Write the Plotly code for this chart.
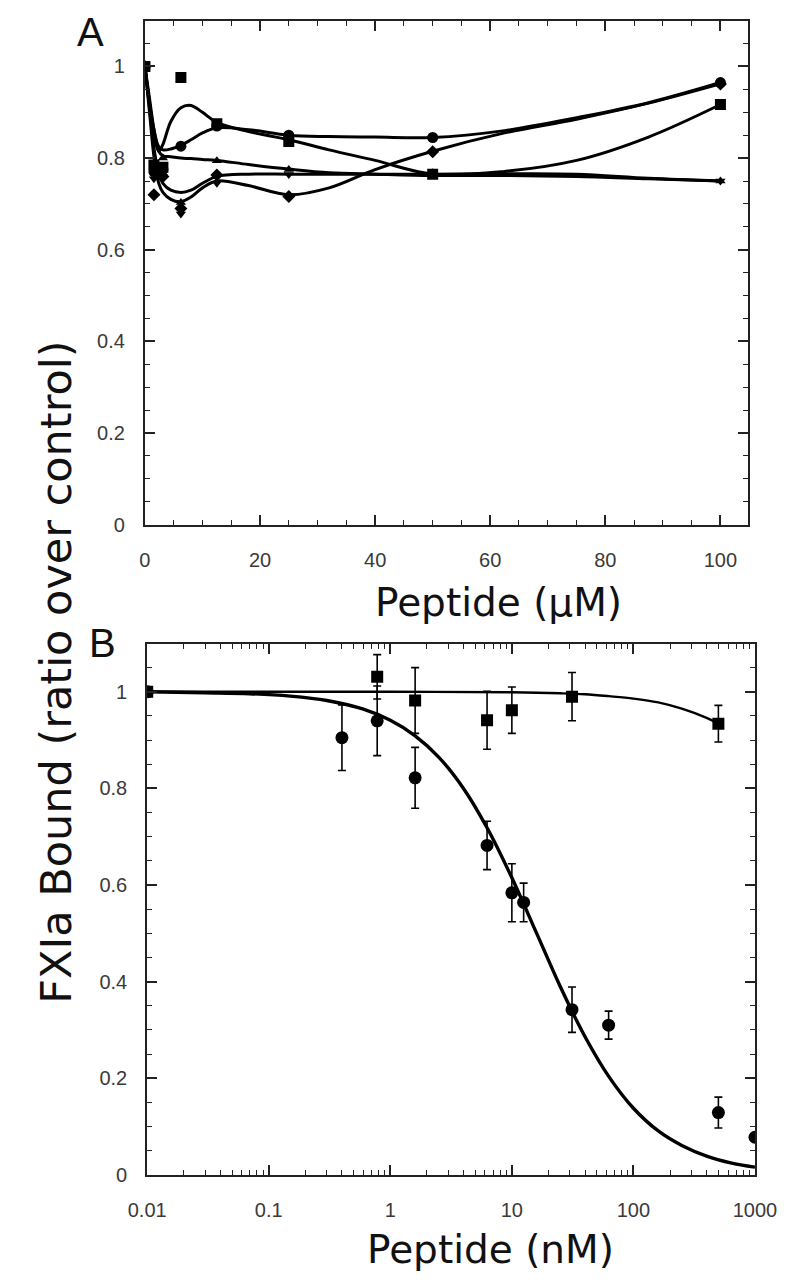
import plotly.graph_objects as go

# ---------------- Panel A data (peptide, µM) ----------------
conc_A = [0, 1.5625, 3.125, 6.25, 12.5, 25, 50, 100]
sq_A   = [1.0, 0.785, 0.78, 0.976, 0.875, 0.836, 0.765, 0.917]
ci_A   = [1.0, 0.770, 0.775, 0.826, 0.870, 0.850, 0.845, 0.965]
di_A   = [1.0, 0.720, 0.760, 0.690, 0.763, 0.716, 0.814, 0.962]
td_A   = [1.0, 0.755, 0.760, 0.678, 0.745, 0.764, 0.765, 0.750]
tu_A   = [1.0, 0.790, 0.800, 0.703, 0.794, 0.775, 0.768, 0.750]

# smoothed curves
curve_x_A  = [0, 0.8, 1.6, 2.4, 3.125, 4.5, 6.25, 8, 10, 12.5, 18, 25, 32, 40, 50, 62.5, 75, 87.5, 100]
sq_curve   = [1.0, 0.92, 0.85, 0.815, 0.83, 0.88, 0.91, 0.915, 0.90, 0.878, 0.858, 0.840, 0.818, 0.795, 0.765, 0.771, 0.795, 0.846, 0.917]
ci_curve   = [1.0, 0.92, 0.86, 0.825, 0.818, 0.82, 0.828, 0.840, 0.855, 0.866, 0.862, 0.850, 0.847, 0.846, 0.845, 0.860, 0.888, 0.921, 0.965]
di_curve   = [1.0, 0.90, 0.80, 0.745, 0.725, 0.71, 0.705, 0.715, 0.735, 0.750, 0.740, 0.720, 0.735, 0.775, 0.815, 0.855, 0.885, 0.920, 0.962]
td_curve   = [1.0, 0.91, 0.82, 0.765, 0.745, 0.73, 0.725, 0.730, 0.745, 0.760, 0.765, 0.765, 0.765, 0.765, 0.765, 0.766, 0.765, 0.756, 0.750]
tu_curve   = [1.0, 0.93, 0.86, 0.815, 0.805, 0.803, 0.800, 0.799, 0.797, 0.795, 0.786, 0.776, 0.768, 0.765, 0.762, 0.762, 0.760, 0.755, 0.750]

# ---------------- Panel B data (peptide, nM) ----------------
conc_B_sq = [0.01, 0.78, 1.6, 6.25, 10, 31.25, 500]
val_B_sq  = [1.0, 1.031, 0.982, 0.941, 0.962, 0.990, 0.934]
err_B_sq  = [0.0, 0.046, 0.068, 0.060, 0.048, 0.050, 0.038]

conc_B_ci = [0.01, 0.4, 0.78, 1.6, 6.25, 10, 12.5, 31.25, 62.5, 500, 1000]
val_B_ci  = [1.0, 0.905, 0.940, 0.822, 0.682, 0.584, 0.564, 0.342, 0.310, 0.129, 0.078]
err_B_ci  = [0.0, 0.068, 0.072, 0.063, 0.050, 0.060, 0.040, 0.047, 0.029, 0.032, 0.0]

curve_x_B   = [0.01, 0.03, 0.07, 0.15, 0.3, 0.6, 1.0, 1.6, 2.5, 4, 6.3, 10, 16, 25, 40, 63, 100, 160, 250, 400, 630, 1000]
ci_curve_B  = [1.0, 0.998, 0.996, 0.991, 0.982, 0.964, 0.941, 0.909, 0.865, 0.800, 0.717, 0.615, 0.500, 0.390, 0.286, 0.203, 0.138, 0.091, 0.061, 0.039, 0.025, 0.016]
sq_curve_x_B = [0.01, 0.1, 1.0, 10, 25, 40, 63, 100, 160, 250, 400, 500]
sq_curve_B   = [1.0, 1.0, 1.0, 0.999, 0.997, 0.995, 0.991, 0.986, 0.978, 0.965, 0.946, 0.934]

W, H = 800, 1284
def px(x):
    return x / W
def py(y):
    return 1 - y / H

fig = go.Figure()
black = "#000000"

# Panel A curves + markers
for cy in [sq_curve, ci_curve, di_curve, td_curve, tu_curve]:
    fig.add_trace(go.Scatter(x=curve_x_A, y=cy, mode="lines", line=dict(color=black, width=3, shape="spline", smoothing=1.0),
                             xaxis="x", yaxis="y", showlegend=False, hoverinfo="skip"))
for vals, sym, size in [(sq_A, "square", 11), (ci_A, "circle", 11), (di_A, "diamond", 10),
                        (td_A, "triangle-down", 9), (tu_A, "triangle-up", 9)]:
    fig.add_trace(go.Scatter(x=conc_A, y=vals, mode="markers", marker=dict(symbol=sym, size=size, color=black),
                             xaxis="x", yaxis="y", showlegend=False))

# Panel B curves + markers
fig.add_trace(go.Scatter(x=sq_curve_x_B, y=sq_curve_B, mode="lines", line=dict(color=black, width=2.4, shape="spline"),
                         xaxis="x2", yaxis="y2", showlegend=False, hoverinfo="skip"))
fig.add_trace(go.Scatter(x=curve_x_B, y=ci_curve_B, mode="lines", line=dict(color=black, width=3.4, shape="spline"),
                         xaxis="x2", yaxis="y2", showlegend=False, hoverinfo="skip"))
fig.add_trace(go.Scatter(x=conc_B_sq, y=val_B_sq, mode="markers",
                         marker=dict(symbol="square", size=12, color=black),
                         error_y=dict(type="data", array=err_B_sq, visible=True, color=black, thickness=1.6, width=4),
                         xaxis="x2", yaxis="y2", showlegend=False))
fig.add_trace(go.Scatter(x=conc_B_ci, y=val_B_ci, mode="markers",
                         marker=dict(symbol="circle", size=13, color=black),
                         error_y=dict(type="data", array=err_B_ci, visible=True, color=black, thickness=1.6, width=4),
                         xaxis="x2", yaxis="y2", showlegend=False))

tickfont = dict(family="Liberation Sans, Arial, sans-serif", size=20, color="#3a3a3a")
axis_common = dict(showline=True, linecolor="#222222", linewidth=2, mirror="ticks", ticks="inside",
                   tickcolor="#222222", tickwidth=1.6, showgrid=False, zeroline=False, tickfont=tickfont)

minor_lin = dict(ticks="inside", ticklen=5, tickcolor="#222222", tickwidth=1.4, showgrid=False)

log_minor_vals = [k * 10 ** d for d in range(-2, 3) for k in range(2, 10)]

fig.update_layout(
    width=W, height=H, margin=dict(l=0, r=0, t=0, b=0),
    paper_bgcolor="white", plot_bgcolor="white",
    xaxis=dict(domain=[px(124.3), px(760)], range=[0, 104.8], tickmode="array",
               tickvals=[0, 20, 40, 60, 80, 100], ticktext=["0", "20", "40", "60", "80", "100"],
               ticklen=10, ticklabelstandoff=16, anchor="y",
               minor=dict(dtick=5, **minor_lin), **axis_common),
    yaxis=dict(domain=[py(521), py(12.8)], range=[0, 1.1], tickmode="array",
               tickvals=[0, 0.2, 0.4, 0.6, 0.8, 1.0], ticktext=["0", "0.2", "0.4", "0.6", "0.8", "1"],
               ticklen=10, ticklabelstandoff=14, anchor="x",
               minor=dict(dtick=0.05, **minor_lin), **axis_common),
    xaxis2=dict(domain=[px(126.7), px(767.3)], type="log", range=[-2, 3], tickmode="array",
                tickvals=[0.01, 0.1, 1, 10, 100, 1000], ticktext=["0.01", "0.1", "1", "10", "100", "1000"],
                ticklen=10, ticklabelstandoff=16, anchor="y2",
                minor=dict(tickvals=log_minor_vals, **minor_lin), **axis_common),
    yaxis2=dict(domain=[py(1177), py(641)], range=[0, 1.1], tickmode="array",
                tickvals=[0, 0.2, 0.4, 0.6, 0.8, 1.0], ticktext=["0", "0.2", "0.4", "0.6", "0.8", "1"],
                ticklen=10, ticklabelstandoff=14, anchor="x2",
                minor=dict(dtick=0.05, **minor_lin), **axis_common),
)

titlefont = dict(family="DejaVu Sans, sans-serif", size=39, color="#111111")
fig.add_annotation(text="Peptide (μM)", x=px(497), y=py(600), xref="paper", yref="paper",
                   showarrow=False, font=titlefont, xanchor="center", yanchor="middle")
fig.add_annotation(text="Peptide (nM)", x=px(489), y=py(1252), xref="paper", yref="paper",
                   showarrow=False, font=titlefont, xanchor="center", yanchor="middle")
fig.add_annotation(text="FXIa Bound (ratio over control)", x=px(31), y=py(670), xref="paper", yref="paper",
                   showarrow=False, font=dict(family="DejaVu Sans, sans-serif", size=43, color="#111111"),
                   textangle=-90, xanchor="center", yanchor="middle")
fig.add_annotation(text="A", x=px(67), y=py(24), xref="paper", yref="paper", showarrow=False,
                   font=dict(family="Liberation Sans, Arial, sans-serif", size=40, color="#111111"),
                   xanchor="center", yanchor="middle")
fig.add_annotation(text="B", x=px(80), y=py(640), xref="paper", yref="paper", showarrow=False,
                   font=dict(family="Liberation Sans, Arial, sans-serif", size=40, color="#111111"),
                   xanchor="center", yanchor="middle")

fig.write_html("out.html")
